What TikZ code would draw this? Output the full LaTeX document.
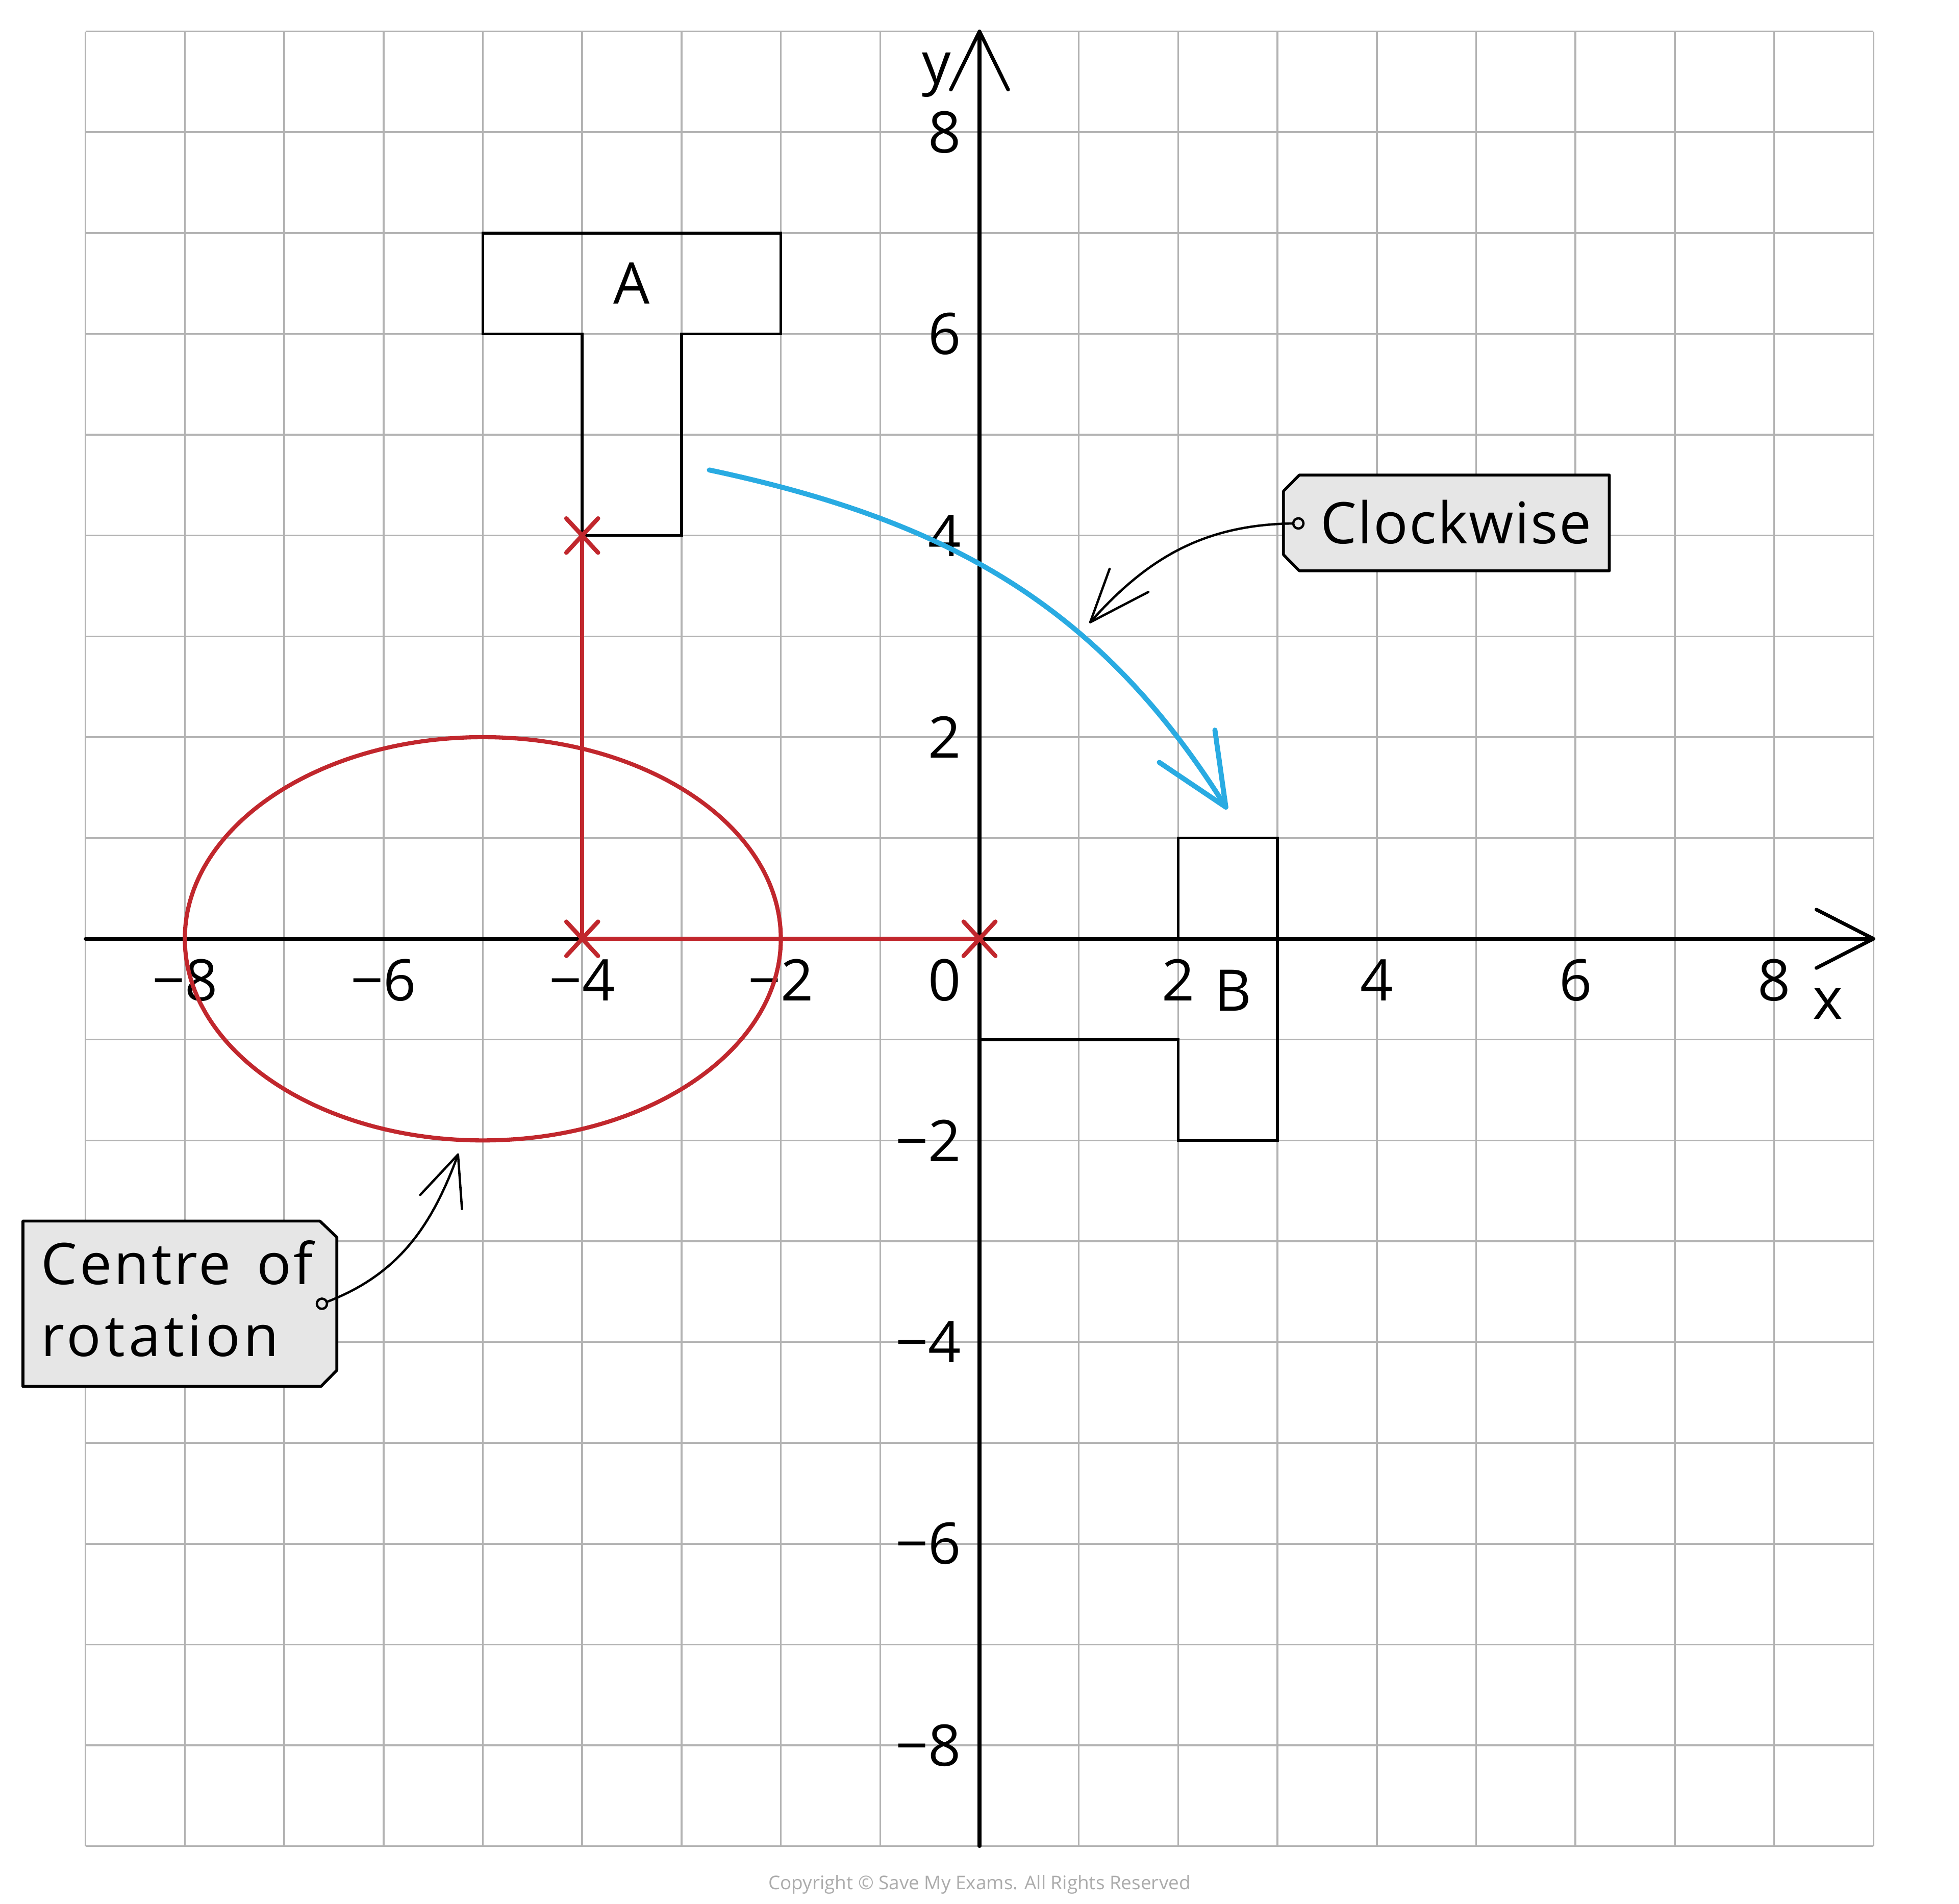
\documentclass[tikz,border=0pt]{standalone}
\usepackage{fontspec}
\setmainfont{Open Sans}
\definecolor{gridgray}{HTML}{B3B3B3}
\definecolor{myred}{HTML}{C1272D}
\definecolor{myblue}{HTML}{29ABE2}
\definecolor{tagfill}{HTML}{E6E6E6}
\definecolor{copygray}{HTML}{ABABAB}
\begin{document}
\begin{tikzpicture}[x=1.947cm,y=1.976cm,line cap=round,line join=round,
  gridline/.style={draw=gridgray,line width=1pt,line cap=butt},
  axisline/.style={draw=black,line width=2pt},
  shapeline/.style={draw=black,line width=1.6pt,line cap=butt,line join=miter},
  redline/.style={draw=myred,line width=2.3pt},
  crossline/.style={draw=myred,line width=2.4pt},
  bluearc/.style={draw=myblue,line width=2.8pt},
  callout/.style={draw=black,line width=1.3pt},
  tagbox/.style={draw=black,fill=tagfill,line width=1.6pt},
  lab/.style={inner sep=0pt,font=\fontsize{32}{38}\selectfont},
  redcross/.pic={\draw[crossline] (-0.16,-0.17)--(0.16,0.17) (-0.16,0.17)--(0.16,-0.17);}
]
% canvas
\fill[white] (-9.861,-9.570) rectangle (9.861,9.312);
\useasboundingbox (-9.861,-9.570) rectangle (9.861,9.312);

% grid
\foreach \k in {-9,...,9}{
  \draw[gridline] (\k,-9) -- (\k,9);
  \draw[gridline] (-9,\k) -- (9,\k);
}

% axes
\coordinate (xL) at (-9,0);
\coordinate (xR) at (9,0);
\coordinate (xA1) at (8.425,0.29);
\coordinate (xA2) at (8.425,-0.29);
\coordinate (yB) at (0,-9);
\coordinate (yT) at (0,9);
\coordinate (yA1) at (-0.288,8.423);
\coordinate (yA2) at (0.288,8.423);
\draw[axisline] (xL) -- (xR);
\draw[axisline] (xA1) -- (xR) -- (xA2);
\draw[axisline] (yB) -- (yT);
\draw[axisline] (yA1) -- (yT) -- (yA2);
\node[lab] (ylab) at (-0.43,8.57) {y};
\node[lab] (xlab) at (8.54,-0.645) {x};

% tick labels
\foreach \v/\t [count=\i] in {-8/−8,-6/−6,-4/−4,-2/−2,2/2,4/4,6/6,8/8}{
  \node[lab] (xt\i) at (\v,-0.41) {\t};
  \node[lab,anchor=east] (yt\i) at (-0.18,\v) {\t};
}
\node[lab] (zero) at (-0.352,-0.41) {0};

% shapes A and B
\draw[shapeline] (-5,7) -- (-2,7) -- (-2,6) -- (-3,6) -- (-3,4) -- (-4,4) -- (-4,6) -- (-5,6) -- cycle;
\draw[shapeline] (3,1) -- (3,-2) -- (2,-2) -- (2,-1) -- (0,-1) -- (0,0) -- (2,0) -- (2,1) -- cycle;
\node[lab] (labA) at (-3.5,6.5) {A};
\node[lab] (labB) at (2.55,-0.51) {B};

% red construction
\coordinate (p1) at (-4,4);
\coordinate (p2) at (-4,0);
\coordinate (p3) at (0,0);
\draw[redline] (p1) -- (p2) -- (p3);
\draw[redline] (-5,0) ellipse [x radius=3,y radius=2];
\pic at (p1) {redcross};
\pic at (p2) {redcross};
\pic at (p3) {redcross};

% blue rotation arrow
\coordinate (bs) at (-2.72,4.65);
\coordinate (be) at (2.48,1.306);
\coordinate (bh1) at (2.37,2.07);
\coordinate (bh2) at (1.81,1.75);
\draw[bluearc] (bs) to[out=-12,in=122] (be);
\draw[bluearc] (bh1) -- (be) -- (bh2);

% Clockwise tag
\draw[tagbox] (3.22,4.60) -- (6.34,4.60) -- (6.34,3.65) -- (3.22,3.65) -- (3.06,3.81) -- (3.06,4.44) -- cycle;
\node[lab,anchor=base west] (cw) at (3.43,3.92) {\addfontfeature{LetterSpace=2}Clockwise};
\coordinate (cwhole) at (3.21,4.12);
\coordinate (cwtip) at (1.115,3.14);
\coordinate (cwa1) at (1.31,3.67);
\coordinate (cwa2) at (1.70,3.44);
\draw[callout] (cwhole) to[out=180,in=48.5] (cwtip);
\draw[callout] (cwa1) -- (cwtip) -- (cwa2);
\draw[callout,fill=tagfill] (cwhole) circle[radius=1mm];

% Centre of rotation tag
\draw[tagbox] (-9.63,-2.80) -- (-6.64,-2.80) -- (-6.47,-2.96) -- (-6.47,-4.28) -- (-6.63,-4.44) -- (-9.63,-4.44) -- cycle;
\node[lab,anchor=base west] (cr1) at (-9.45,-3.43) {\addfontfeature{LetterSpace=4}Centre\hspace{0.45em}of};
\node[lab,anchor=base west] (cr2) at (-9.45,-4.14) {\addfontfeature{LetterSpace=6}rotation};
\coordinate (crhole) at (-6.62,-3.62);
\coordinate (crtip) at (-5.25,-2.14);
\coordinate (cra1) at (-5.63,-2.54);
\coordinate (cra2) at (-5.21,-2.68);
\draw[callout] (crhole) to[out=20,in=250] (crtip);
\draw[callout] (cra1) -- (crtip) -- (cra2);
\draw[callout,fill=tagfill] (crhole) circle[radius=1mm];

% copyright
\node[inner sep=0pt,text=copygray,font=\fontsize{10.5}{12}\selectfont] (copy) at (0,-9.38) {Copyright © Save My Exams. All Rights Reserved};
\end{tikzpicture}
\end{document}
